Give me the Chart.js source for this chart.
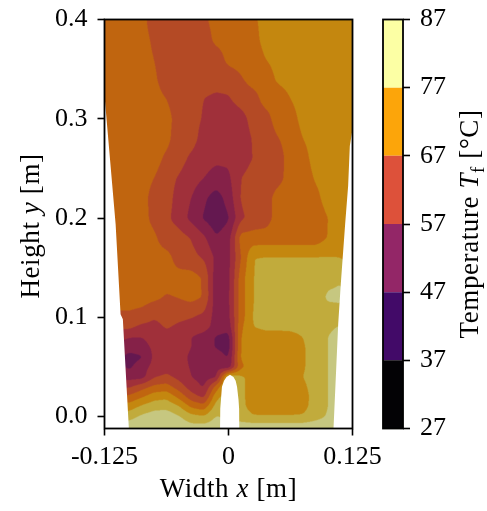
<!DOCTYPE html>
<html><head><meta charset="utf-8">
<script src="https://cdn.jsdelivr.net/npm/chart.js@4.4.1/dist/chart.umd.min.js"></script>
<style>
html,body{margin:0;padding:0;background:#fff;}
#wrap{position:relative;width:487px;height:511px;overflow:hidden;background:#fff;}
#mainBox{position:absolute;left:0;top:0;width:385px;height:511px;}
#cbBox{position:absolute;left:366px;top:0;width:121px;height:511px;}
</style></head><body>
<div id="wrap"><div id="mainBox"><canvas id="main"></canvas></div><div id="cbBox"><canvas id="cb"></canvas></div></div>
<script>
// ---------------- data ----------------
const xNodes = [-0.125,-0.1125,-0.1,-0.0875,-0.075,-0.0625,-0.05,-0.0375,-0.025,-0.0125,0,0.0125,0.025,0.0375,0.05,0.0625,0.075,0.0875,0.1,0.1125,0.125];
const yNodes = [0.40,0.38,0.36,0.34,0.32,0.30,0.28,0.26,0.24,0.22,0.20,0.18,0.16,0.14,0.12,0.10,0.09,0.08,0.07,0.06,0.05,0.04,0.03,0.02,0.01,0.00,-0.012];
// temperature in degC, one row per yNodes entry, one column per xNodes entry
const temperature = [
 [64,64,64,64,59,59,59,59,61,64,64,64,66,69,69,69,69,69,69,69,69],
 [64,64,64,64,61,59,59,59,59,63.5,64,64,65,69,69,69,69,69,69,69,69],
 [64,64,64,64,62,59,59,59,59,59,63.5,64,64,67,69,69,69,69,69,69,69],
 [64,64,64,64,63,59,59,59,59,59,59,61.5,64,64,68,69,69,69,69,69,69],
 [64,64,64,64,64,62,59,59,57,56,56.5,59,60,64,64,67,69,69,69,69,69],
 [64,64,64,64,64,64,59.5,59,56.5,54,54,55,59,60,64.5,65,68.5,69,69,69,69],
 [64,64,64,64,64,63.5,59,59,55,54,53,54,57.5,59,61.8,64,67,69,69,69,69],
 [64,64,64,64,64,61,59,56,54,53,53,54.5,57.2,59,60,64,65,69,69,69,69],
 [64,64,64,64,62,59,56.5,54,52,50,51,57,59,59.5,60.5,64,64,67.5,69,69,69],
 [64,64,64,64,60,59,55,52,48,44.5,49,57.5,59,60,64,64,64,65.5,69,69,69],
 [64,64,64,64,60.5,58,55,50.5,46.5,43.5,46.5,56,59,60,64,64,64,64,67,69,69],
 [64,64,64,64,63,59,59,56.8,53,47.5,50,64,64,64,64,64,64,64,67.2,69,69],
 [64,64,64,64,64,64,59.5,58.5,56.5,51,50.5,62,72,72.3,72.3,72.3,72.3,72.3,72.3,72,70],
 [64,64,64,64,64,64,64,64,61.5,49,50.5,64.5,72,74,74,74,74,74,75.5,76.5,75],
 [64,64,64,64,63,61.5,62.2,63.5,61.7,49,51,64.5,72,74,74,74,74,74,77.8,78,76],
 [61,61,61,60,57.5,59,58,57.2,55.5,50,50.5,64.5,72.5,74,74,74,74,74,74,74.5,74],
 [58,58,58,55.5,55,57.5,56,55,54,50,49,66,72,73,73,73,73.5,74,76,77.5,77],
 [54,54,52,52,54,55,54,52,50,46.5,45,67.5,69,70,70,70.5,72,74,77,79,79],
 [50,50,49.5,50,53,55,54.5,52,50,46.5,44.5,67.5,69,70,70,70,71.5,74,77,79,79],
 [49,49,45,46.5,53,55,54,51,50,50,46.5,68,69,70,70,70,71.5,74,77,79,79],
 [49,49,46,50,53.5,55,54,51.5,50,50.5,48.5,66,69,70,70,70,71.5,74,77,79,79],
 [50,50,50,50,56.5,58.1,55.5,52,50,51,76,73,70,70,70,70,72,74,77,79,79],
 [56.3,56.3,56.3,59.9,63.2,64.1,59.5,54.5,51.5,64,75,73,70,70,70,70,71,74,77,79,79],
 [63.2,63.2,63.2,66.4,69.9,70.7,65.6,59.2,55.9,70.5,75,73,70,70,70,70,70,74,77,79,79],
 [69.5,69.5,69.5,73,75.2,75.6,72.5,66.2,64.1,74.2,75,73,70.5,70,70,70,70.5,74,77,79,79],
 [75.3,75.3,75.3,78,79.7,80,77.5,73.9,72.6,77.3,76,74,72.3,72.3,72.3,72.3,72.5,75,77.5,79,79],
 [80.5,80.5,80.5,80.5,81,81.5,80.5,79.5,79.9,80,79,81,81,81,81,81,81,81,81,81,81]
];
// contour levels and fill colours (plot)
const levels = [42,47,52,57,62,67,72,77,82];
const bandColors = ['#641850','#852148','#a0303a','#b44a25','#c0650f','#c4870f','#c1ab3c','#c6c780'];
// measurement domain outline (x, y in m)
const leftEdge  = [[-0.127,0.42],[-0.1246,0.319],[-0.1138,0.194],[-0.1088,0.103],[-0.1065,0.098],[-0.1,-0.02]];
const rightEdge = [[0.127,0.42],[0.1251,0.29],[0.1223,0.2726],[0.1206,0.2324],[0.1176,0.194],[0.1132,0.1336],[0.1106,0.0934],[0.1055,-0.02]];
const holeOutline = [[-0.0086,-0.02],[-0.0083,0.008],[-0.0076,0.017],[-0.0066,0.030],[-0.0045,0.036],[-0.002,0.040],[0.0015,0.0422],[0.005,0.040],[0.0072,0.036],[0.0086,0.030],[0.0101,0.017],[0.0107,0.008],[0.0109,-0.02]];
// axes
const xTickValues = [-0.125,0,0.125];
const xTickLabels = ['-0.125','0','0.125'];
const yTickValues = [0,0.1,0.2,0.3,0.4];
const yTickLabels = ['0.0','0.1','0.2','0.3','0.4'];
// colour bar
const cbTicks = [27,37,47,57,67,77,87];
const cbColors = ['#030205','#420a68','#932667','#dd513a','#fca50a','#fcffa4'];

const FONT = "'Liberation Serif','Times New Roman',serif";
const FS = 26;
const TFS = 27;

function hexRgb(h){return [parseInt(h.substr(1,2),16),parseInt(h.substr(3,2),16),parseInt(h.substr(5,2),16)];}
const bandRgb = bandColors.map(hexRgb);

function sampleT(xv, yv){
  const nx = xNodes.length, ny = yNodes.length;
  let i = 0, tx = 0;
  if (xv <= xNodes[0]) { i = 0; tx = 0; }
  else if (xv >= xNodes[nx-1]) { i = nx-2; tx = 1; }
  else { while (xNodes[i+1] < xv) i++; tx = (xv - xNodes[i])/(xNodes[i+1]-xNodes[i]); }
  let j = 0, ty = 0;
  if (yv >= yNodes[0]) { j = 0; ty = 0; }
  else if (yv <= yNodes[ny-1]) { j = ny-2; ty = 1; }
  else { while (yNodes[j+1] > yv) j++; ty = (yNodes[j]-yv)/(yNodes[j]-yNodes[j+1]); }
  const r0 = temperature[j], r1 = temperature[j+1];
  const a = r0[i]*(1-tx) + r0[i+1]*tx;
  const b = r1[i]*(1-tx) + r1[i+1]*tx;
  return a*(1-ty) + b*ty;
}
function bandOf(t){
  let k = 0;
  while (k < levels.length-2 && t >= levels[k+1]) k++;
  return k;
}
// separable box blur of the sampled field (rounds the corners of the bilinear cells)
function blurField(f, w, h, r){
  const t = new Float32Array(w*h);
  for (let y = 0; y < h; y++){
    const row = y*w;
    for (let x = 0; x < w; x++){
      let s = 0, n = 0;
      for (let k = -r; k <= r; k++){ const xx = x+k; if (xx >= 0 && xx < w){ s += f[row+xx]; n++; } }
      t[row+x] = s/n;
    }
  }
  for (let x = 0; x < w; x++){
    for (let y = 0; y < h; y++){
      let s = 0, n = 0;
      for (let k = -r; k <= r; k++){ const yy = y+k; if (yy >= 0 && yy < h){ s += t[yy*w+x]; n++; } }
      f[y*w+x] = s/n;
    }
  }
}

const contourPlugin = {
  id:'contour',
  beforeDatasetsDraw(chart){
    const {ctx, chartArea:a, scales:{x, y}} = chart;
    const S = 2;
    const w = Math.ceil(a.right - a.left), h = Math.ceil(a.bottom - a.top);
    const W = w*S, H = h*S;
    const field = new Float32Array(W*H);
    for (let jj = 0; jj < H; jj++){
      const yv = y.getValueForPixel(a.top + (jj+0.5)/S);
      for (let ii = 0; ii < W; ii++){
        const xv = x.getValueForPixel(a.left + (ii+0.5)/S);
        field[jj*W+ii] = sampleT(xv, yv);
      }
    }
    blurField(field, W, H, 4);
    blurField(field, W, H, 3);
    const off = document.createElement('canvas');
    off.width = W; off.height = H;
    const octx = off.getContext('2d');
    const img = octx.createImageData(W, H);
    const d = img.data;
    for (let p = 0; p < W*H; p++){
      const c = bandRgb[bandOf(field[p])];
      d[p*4]=c[0]; d[p*4+1]=c[1]; d[p*4+2]=c[2]; d[p*4+3]=255;
    }
    octx.putImageData(img, 0, 0);
    const path = new Path2D();
    const outline = leftEdge.concat(rightEdge.slice().reverse());
    outline.forEach((pt, k) => {
      const px = x.getPixelForValue(pt[0]), py = y.getPixelForValue(pt[1]);
      k ? path.lineTo(px, py) : path.moveTo(px, py);
    });
    path.closePath();
    holeOutline.forEach((pt, k) => {
      const px = x.getPixelForValue(pt[0]), py = y.getPixelForValue(pt[1]);
      k ? path.lineTo(px, py) : path.moveTo(px, py);
    });
    path.closePath();
    ctx.save();
    ctx.beginPath(); ctx.rect(a.left, a.top, a.right-a.left, a.bottom-a.top); ctx.clip();
    ctx.clip(path, 'evenodd');
    ctx.imageSmoothingEnabled = true;
    ctx.imageSmoothingQuality = 'high';
    ctx.drawImage(off, a.left, a.top, w, h);
    ctx.restore();
  }
};

const framePlugin = {
  id:'frame',
  afterDraw(chart){
    const {ctx, chartArea:a} = chart;
    ctx.save();
    ctx.strokeStyle = '#000'; ctx.lineWidth = 1.8;
    ctx.strokeRect(a.left, a.top, a.right-a.left, a.bottom-a.top);
    ctx.restore();
  }
};

function drawRich(ctx, parts, size){
  try { ctx.letterSpacing = '0.6px'; } catch(e) {}
  let total = 0;
  parts.forEach(p => {
    const fs = p.sub ? size*0.7 : size;
    ctx.font = (p.italic ? 'italic ' : '') + fs + 'px ' + FONT;
    p.w = ctx.measureText(p.t).width; total += p.w;
  });
  let cx = -total/2;
  parts.forEach(p => {
    const fs = p.sub ? size*0.7 : size;
    ctx.font = (p.italic ? 'italic ' : '') + fs + 'px ' + FONT;
    ctx.fillText(p.t, cx, p.sub ? size*0.22 : 0);
    cx += p.w;
  });
}

const titlesPlugin = {
  id:'titles',
  afterDraw(chart){
    const {ctx, chartArea:a} = chart;
    ctx.save();
    ctx.fillStyle = '#000'; ctx.textBaseline = 'alphabetic'; ctx.textAlign = 'left';
    ctx.translate((a.left+a.right)/2, 497);
    drawRich(ctx, [{t:'Width '},{t:'x',italic:true},{t:' [m]'}], TFS);
    ctx.restore();
    ctx.save();
    ctx.fillStyle = '#000'; ctx.textBaseline = 'alphabetic'; ctx.textAlign = 'left';
    ctx.translate(38.5, (a.top+a.bottom)/2 + 2);
    ctx.rotate(-Math.PI/2);
    drawRich(ctx, [{t:'Height '},{t:'y',italic:true},{t:' [m]'}], TFS);
    ctx.restore();
  }
};

const cbTitlePlugin = {
  id:'cbtitle',
  afterDraw(chart){
    const {ctx, chartArea:a} = chart;
    ctx.save();
    ctx.fillStyle = '#000'; ctx.textBaseline = 'alphabetic'; ctx.textAlign = 'left';
    ctx.translate(112, (a.top+a.bottom)/2);
    ctx.rotate(-Math.PI/2);
    drawRich(ctx, [{t:'Temperature '},{t:'T',italic:true},{t:'f',sub:true},{t:' [°C]'}], TFS);
    ctx.restore();
  }
};

const gridPoints = [];
yNodes.forEach((yv) => xNodes.forEach((xv) => gridPoints.push({x:xv, y:yv})));

Chart.defaults.font.family = FONT;
Chart.defaults.color = '#000';

new Chart(document.getElementById('main'), {
  type:'scatter',
  data:{ datasets:[{ data:gridPoints, pointRadius:0, pointHoverRadius:0, showLine:false }] },
  options:{
    responsive:true, maintainAspectRatio:false, animation:false, events:[],
    layout:{ padding:{ top:19.5, right:32.5, bottom:0, left:0 } },
    plugins:{ legend:{display:false}, tooltip:{enabled:false} },
    scales:{
      x:{ type:'linear', min:-0.125, max:0.125,
          afterBuildTicks:s => { s.ticks = xTickValues.map(v => ({value:v})); },
          afterFit:s => { s.height = 82.5; s.paddingLeft = 0; s.paddingRight = 0; },
          ticks:{ autoSkip:false, maxRotation:0, font:{family:FONT, size:FS}, color:'#000', padding:6,
                  callback:(v, i) => xTickLabels[i] },
          grid:{ display:true, drawOnChartArea:false, drawTicks:true, tickLength:7, tickWidth:1.6, tickColor:'#000' },
          border:{ display:false } },
      y:{ type:'linear', min:-0.012, max:0.4,
          afterBuildTicks:s => { s.ticks = yTickValues.map(v => ({value:v})); },
          afterFit:s => { s.width = 104.5; s.paddingTop = 0; s.paddingBottom = 0; },
          ticks:{ autoSkip:false, font:{family:FONT, size:FS}, color:'#000', padding:10,
                  callback:(v, i) => yTickLabels[i] },
          grid:{ display:true, drawOnChartArea:false, drawTicks:true, tickLength:7, tickWidth:1.6, tickColor:'#000' },
          border:{ display:false } }
    }
  },
  plugins:[contourPlugin, framePlugin, titlesPlugin]
});

new Chart(document.getElementById('cb'), {
  type:'bar',
  data:{ labels:[''], datasets: cbColors.map((c, i) => ({
    data:[[cbTicks[i], cbTicks[i+1]]], backgroundColor:c, borderWidth:0,
    barPercentage:1, categoryPercentage:1, grouped:false, inflateAmount:0 })) },
  options:{
    responsive:true, maintainAspectRatio:false, animation:false, events:[],
    layout:{ padding:{ top:19.5, right:0, bottom:82.5, left:17 } },
    plugins:{ legend:{display:false}, tooltip:{enabled:false} },
    scales:{
      x:{ display:false },
      y:{ position:'right', min:27, max:87,
          afterBuildTicks:s => { s.ticks = cbTicks.map(v => ({value:v})); },
          afterFit:s => { s.width = 84; s.paddingTop = 0; s.paddingBottom = 0; },
          ticks:{ autoSkip:false, font:{family:FONT, size:FS}, color:'#000', padding:10,
                  callback:(v, i) => String(cbTicks[i]) },
          grid:{ display:true, drawOnChartArea:false, drawTicks:true, tickLength:7, tickWidth:1.6, tickColor:'#000' },
          border:{ display:false } }
    }
  },
  plugins:[framePlugin, cbTitlePlugin]
});
</script></body></html>
